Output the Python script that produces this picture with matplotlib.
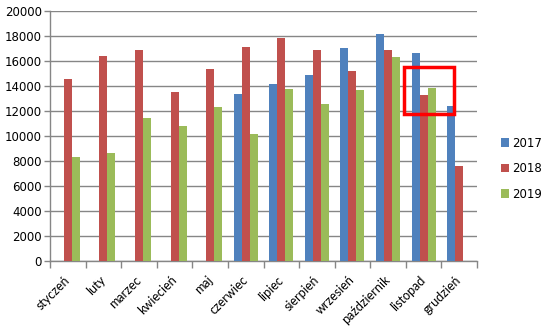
import matplotlib
matplotlib.use("Agg")
import matplotlib.pyplot as plt
import matplotlib.transforms as mtransforms
import numpy as np
from matplotlib.patches import Rectangle

months = ["styczeń", "luty", "marzec", "kwiecień", "maj", "czerwiec",
          "lipiec", "sierpień", "wrzesień", "październik", "listopad", "grudzień"]
series_names = ["2017", "2018", "2019"]
v2017 = [np.nan, np.nan, np.nan, np.nan, np.nan, 13350, 14150, 14870, 17020, 18140, 16620, 12400]
v2018 = [14550, 16380, 16860, 13510, 15350, 17100, 17820, 16860, 15190, 16860, 13270, 7610]
v2019 = [8330, 8650, 11440, 10800, 12310, 10160, 13750, 12550, 13670, 16300, 13830, np.nan]
colors = ["#4F81BD", "#C0504D", "#9BBB59"]
yticks = list(range(0, 20001, 2000))

fig = plt.figure(figsize=(5.48, 3.26), dpi=100)
ax = fig.add_axes([50/548, 1-261.3/326, 427/548, 250.6/326])

x = np.arange(len(months))
w = 0.225
for i, (vals, name, c) in enumerate(zip([v2017, v2018, v2019], series_names, colors)):
    ax.bar(x + (i-1)*w, vals, width=w, color=c, label=name, zorder=3)

ax.set_xlim(-0.5, len(months)-0.5)
ax.set_ylim(0, 20000)
ax.set_yticks(yticks)
ax.set_yticklabels([str(t) for t in yticks], fontsize=8.5)
ax.yaxis.grid(True, color="#868686", linewidth=1, zorder=0)
ax.set_axisbelow(True)

ax.set_xticks(x)
ax.set_xticklabels(months, rotation=45, ha="right", va="top", fontsize=9,
                   family="Lato", rotation_mode="anchor")
ax.tick_params(axis="x", length=0, pad=9)
dx = mtransforms.ScaledTranslation(-4/100, 0, fig.dpi_scale_trans)
for lab in ax.get_xticklabels():
    lab.set_transform(lab.get_transform() + dx)
ax.set_xticks(np.arange(-0.5, len(months)), minor=True)
ax.tick_params(axis="x", which="minor", length=5, color="#868686", width=1)
ax.tick_params(axis="y", length=4, color="#868686", width=1, pad=2)

for s in ["top", "right"]:
    ax.spines[s].set_visible(False)
for s in ["left", "bottom"]:
    ax.spines[s].set_color("#868686")
    ax.spines[s].set_linewidth(1)

# red highlight rectangle
ax.add_patch(Rectangle((9.45, 11780), 1.405, 3720, fill=False,
                       edgecolor="#FF0000", linewidth=2.5, zorder=5, clip_on=False))

leg = fig.legend(loc="upper left", bbox_to_anchor=(496/548, 1-132/326),
                 frameon=False, fontsize=8.5, handlelength=0.7, handleheight=0.7,
                 handletextpad=0.3, labelspacing=1.05, borderaxespad=0)

fig.savefig("out.png", dpi=100)
